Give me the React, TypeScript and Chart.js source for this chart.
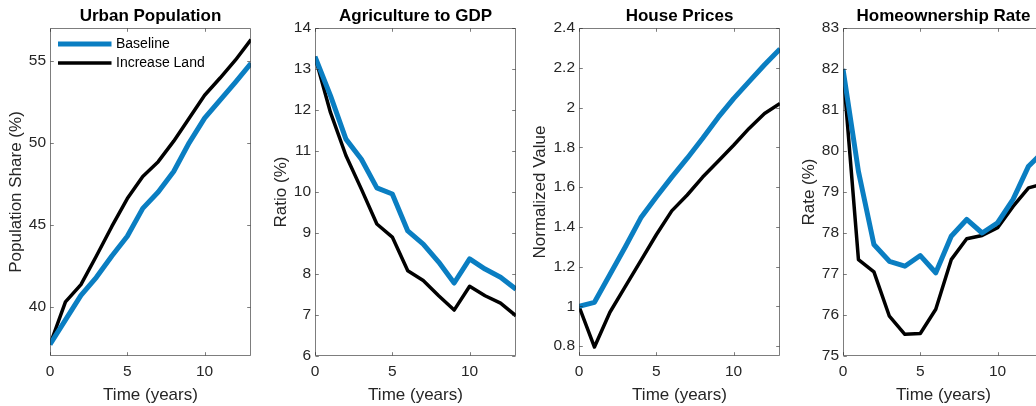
import { useEffect, useRef } from 'react';
import { Chart, registerables } from 'chart.js';

Chart.register(...registerables);

// ---- data ----
const years = [0, 1, 2, 3, 4, 5, 6, 7, 8, 9, 10, 11, 12, 13];
const seriesNames = ['Baseline', 'Increase Land'];

const urbanBaseline = [37.7, 39.2, 40.7, 41.8, 43.1, 44.3, 46.0, 47.0, 48.25, 50.0, 51.5, 52.6, 53.7, 54.85];
const urbanIncrease = [37.7, 40.3, 41.35, 43.1, 44.9, 46.6, 47.95, 48.85, 50.1, 51.5, 52.9, 53.95, 55.05, 56.3];

const agriBaseline = [13.3, 12.35, 11.29, 10.8, 10.1, 9.95, 9.05, 8.73, 8.29, 7.78, 8.37, 8.12, 7.92, 7.63];
const agriIncrease = [13.3, 11.94, 10.89, 10.07, 9.22, 8.9, 8.08, 7.84, 7.47, 7.12, 7.7, 7.47, 7.29, 6.98];

const houseBaseline = [1.0, 1.02, 1.16, 1.3, 1.445, 1.55, 1.65, 1.745, 1.845, 1.95, 2.045, 2.13, 2.215, 2.295];
const houseIncrease = [1.0, 0.795, 0.97, 1.1, 1.23, 1.36, 1.48, 1.56, 1.65, 1.73, 1.81, 1.895, 1.97, 2.02];

const homeBaseline = [82.0, 79.5, 77.72, 77.31, 77.19, 77.45, 77.03, 77.92, 78.33, 78.0, 78.25, 78.82, 79.63, 80.0];
const homeIncrease = [82.0, 77.35, 77.05, 75.97, 75.53, 75.55, 76.14, 77.35, 77.86, 77.94, 78.13, 78.65, 79.1, 79.2];

const xTicks = [0, 5, 10];
const urbanTicks = [40, 45, 50, 55];
const agriTicks = [6, 7, 8, 9, 10, 11, 12, 13, 14];
const houseTicks = [0.8, 1, 1.2, 1.4, 1.6, 1.8, 2, 2.2, 2.4];
const homeTicks = [75, 76, 77, 78, 79, 80, 81, 82, 83];

// ---- styling ----
const FONT = "'Liberation Sans', Arial, Helvetica, sans-serif";
const BLUE = '#0a7ec2';
const AXIS_GRAY = 'rgba(38,38,38,0.6)';
const TEXT = '#262626';
const PLOT_W = 201;
const PAD_RIGHT = 8;
const CANVAS_H = 406;
const X_AXIS_H = 50;
const TICK_LEN = 3.3;

type Panel = {
  title: string;
  yLabel: string;
  base: number[];
  alt: number[];
  yMin: number;
  yMax: number;
  yTicks: number[];
  plotLeft: number;
  axisW: number;
  legend: boolean;
};

const panels: Panel[] = [
  { title: 'Urban Population', yLabel: 'Population Share (%)', base: urbanBaseline, alt: urbanIncrease, yMin: 37, yMax: 57, yTicks: urbanTicks, plotLeft: 50, axisW: 44, legend: true },
  { title: 'Agriculture to GDP', yLabel: 'Ratio (%)', base: agriBaseline, alt: agriIncrease, yMin: 6, yMax: 14, yTicks: agriTicks, plotLeft: 315, axisW: 44, legend: false },
  { title: 'House Prices', yLabel: 'Normalized Value', base: houseBaseline, alt: houseIncrease, yMin: 0.75, yMax: 2.4, yTicks: houseTicks, plotLeft: 579, axisW: 49, legend: false },
  { title: 'Homeownership Rate', yLabel: 'Rate (%)', base: homeBaseline, alt: homeIncrease, yMin: 75, yMax: 83, yTicks: homeTicks, plotLeft: 843, axisW: 44, legend: false },
];

const fmt = (v: number) => String(Math.round(v * 100) / 100);

// Box around the axes with short inward tick marks on all four sides
const axesBox = {
  id: 'axesBox',
  afterDraw(chart: any) {
    const { ctx, chartArea } = chart;
    const { left, right, top, bottom } = chartArea;
    const xs = chart.scales.x;
    const ys = chart.scales.y;
    const L = Math.round(left) + 0.5;
    const R = Math.round(right) - 0.5;
    const T = Math.round(top) + 0.5;
    const B = Math.round(bottom) - 0.5;
    ctx.save();
    ctx.strokeStyle = AXIS_GRAY;
    ctx.lineWidth = 1;
    ctx.beginPath();
    ctx.rect(L, T, R - L, B - T);
    for (const t of xs.ticks) {
      const px = Math.round(xs.getPixelForValue(t.value)) + 0.5;
      ctx.moveTo(px, B);
      ctx.lineTo(px, B - TICK_LEN);
      ctx.moveTo(px, T);
      ctx.lineTo(px, T + TICK_LEN);
    }
    for (const t of ys.ticks) {
      const py = Math.round(ys.getPixelForValue(t.value)) + 0.5;
      ctx.moveTo(L, py);
      ctx.lineTo(L + TICK_LEN, py);
      ctx.moveTo(R, py);
      ctx.lineTo(R - TICK_LEN, py);
    }
    ctx.stroke();
    ctx.restore();
  },
};

// Box-less legend inside the top-left corner of the plot area: a line sample per series
const lineLegend = {
  id: 'lineLegend',
  afterDraw(chart: any, _args: any, opts: any) {
    if (!opts || !opts.show) return;
    const { ctx, chartArea } = chart;
    ctx.save();
    ctx.font = `14px ${FONT}`;
    ctx.textBaseline = 'middle';
    ctx.textAlign = 'left';
    chart.data.datasets.forEach((ds: any, i: number) => {
      const y = chartArea.top + 16 + i * 19;
      const x0 = chartArea.left + 8;
      ctx.beginPath();
      ctx.strokeStyle = ds.borderColor;
      ctx.lineWidth = ds.borderWidth;
      ctx.lineCap = 'butt';
      ctx.moveTo(x0, y);
      ctx.lineTo(x0 + 53.5, y);
      ctx.stroke();
      ctx.fillStyle = '#000000';
      ctx.fillText(ds.label, chartArea.left + 66, y);
    });
    ctx.restore();
  },
};

function PanelChart({ panel }: { panel: Panel }) {
  const ref = useRef<HTMLCanvasElement>(null);
  const width = panel.axisW + PLOT_W + PAD_RIGHT;

  useEffect(() => {
    if (!ref.current) return;
    const chart = new Chart(ref.current, {
      type: 'line',
      data: {
        datasets: [
          {
            label: seriesNames[0],
            data: years.map((x, i) => ({ x, y: panel.base[i] })),
            borderColor: BLUE,
            backgroundColor: BLUE,
            borderWidth: 5,
            pointRadius: 0,
            tension: 0,
            borderJoinStyle: 'round',
            clip: 0,
          },
          {
            label: seriesNames[1],
            data: years.map((x, i) => ({ x, y: panel.alt[i] })),
            borderColor: '#000000',
            backgroundColor: '#000000',
            borderWidth: 3.5,
            pointRadius: 0,
            tension: 0,
            borderJoinStyle: 'round',
            clip: 0,
          },
        ],
      },
      options: {
        animation: false,
        responsive: false,
        events: [],
        layout: { padding: { left: 0, right: PAD_RIGHT, top: 0, bottom: 0 } },
        plugins: {
          title: {
            display: true,
            text: panel.title,
            fullSize: false,
            color: '#000000',
            font: { family: FONT, size: 17, weight: 'bold' },
            padding: { top: 5.9, bottom: 1.7 },
          },
          legend: { display: false },
          tooltip: { enabled: false },
          lineLegend: { show: panel.legend },
        },
        scales: {
          x: {
            type: 'linear',
            min: 0,
            max: 13,
            afterBuildTicks: (s: any) => {
              s.ticks = xTicks.map((v) => ({ value: v }));
            },
            afterFit: (s: any) => {
              s.height = X_AXIS_H;
            },
            grid: { display: false, drawTicks: false },
            border: { display: false },
            ticks: {
              color: TEXT,
              font: { family: FONT, size: 15.5 },
              padding: 6.7,
              maxRotation: 0,
              autoSkip: false,
              callback: (v: any) => fmt(Number(v)),
            },
            title: {
              display: true,
              text: 'Time (years)',
              color: TEXT,
              font: { family: FONT, size: 17 },
              padding: { top: 0, bottom: 0.2 },
            },
          },
          y: {
            type: 'linear',
            min: panel.yMin,
            max: panel.yMax,
            afterBuildTicks: (s: any) => {
              s.ticks = panel.yTicks.map((v) => ({ value: v }));
            },
            afterFit: (s: any) => {
              s.width = panel.axisW;
            },
            grid: { display: false, drawTicks: false },
            border: { display: false },
            ticks: {
              color: TEXT,
              font: { family: FONT, size: 15.5 },
              padding: 4,
              autoSkip: false,
              callback: (v: any) => fmt(Number(v)),
            },
            title: {
              display: true,
              text: panel.yLabel,
              color: TEXT,
              font: { family: FONT, size: 17 },
              padding: { top: 0, bottom: 0 },
            },
          },
        },
      },
      plugins: [axesBox, lineLegend],
    } as any);
    return () => chart.destroy();
  }, [panel]);

  return (
    <canvas
      ref={ref}
      width={width}
      height={CANVAS_H}
      style={{
        position: 'absolute',
        left: panel.plotLeft - panel.axisW,
        top: 0,
        width,
        height: CANVAS_H,
      }}
    />
  );
}

export default function App() {
  return (
    <div
      style={{
        position: 'fixed',
        left: 0,
        top: 0,
        width: 1036,
        height: 406,
        overflow: 'hidden',
        background: '#ffffff',
      }}
    >
      {panels.map((p) => (
        <PanelChart key={p.title} panel={p} />
      ))}
    </div>
  );
}
